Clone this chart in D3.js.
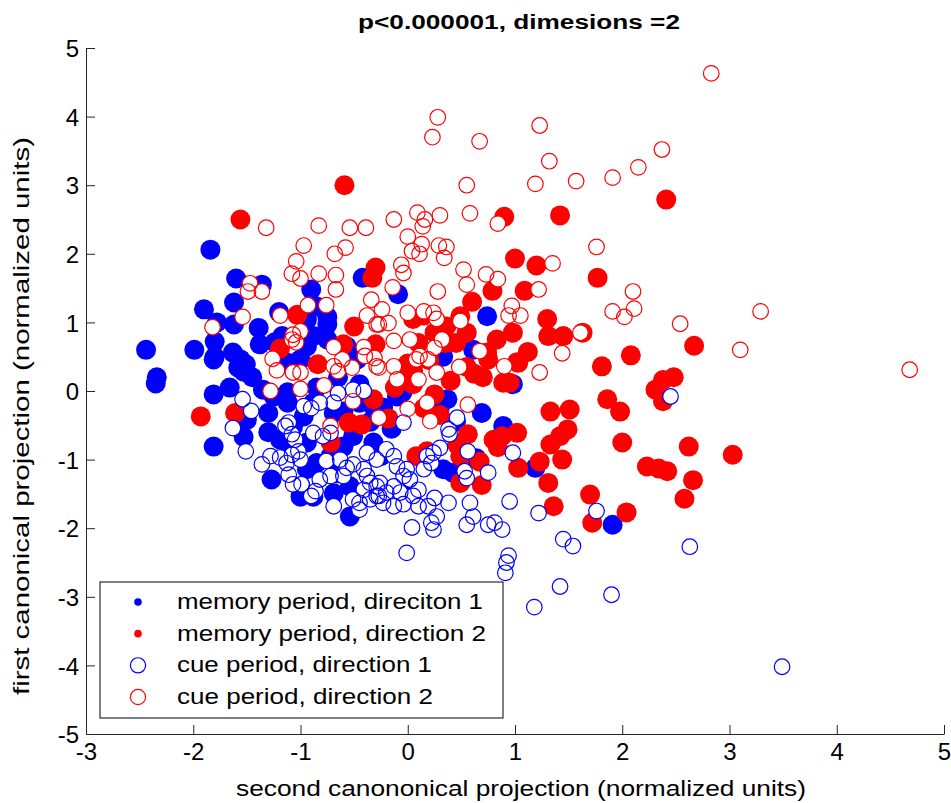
<!DOCTYPE html>
<html>
<head>
<meta charset="utf-8">
<script src="https://cdn.jsdelivr.net/npm/d3@7"></script>
<style>
  html, body { margin: 0; padding: 0; background: #fff; }
  svg { display: block; }
  text { font-family: "Liberation Sans", Arial, Helvetica, sans-serif; fill: #000; }
</style>
</head>
<body>
<svg id="chart" width="951" height="803"></svg>
<script>
// Canonical projections: [second projection, first projection]
const memoryDir1 = [
  [-1.84,2.06],[-1.60,1.64],[-1.36,1.55],[-0.90,1.48],[-1.90,1.19],[-1.62,1.29],[-1.78,1.00],[-1.62,0.97],
  [-1.39,0.92],[-1.17,0.80],[-2.44,0.60],[-1.99,0.60],[-1.80,0.72],[-1.80,0.50],[-1.63,0.56],[-1.56,0.46],
  [-1.51,0.39],[-1.38,0.68],[-0.85,1.23],[-0.75,0.97],[-0.88,0.80],[-0.42,1.65],[-2.34,0.20],
  [-1.24,0.71],[-1.12,0.41],[-1.00,0.46],[-0.94,0.65],[-0.75,0.75],[-0.57,0.65],[-0.47,0.46],[-0.94,1.04],[-0.75,1.08],
  [0.74,1.09],[-0.09,1.41],[0.33,0.50],[0.61,0.60],
  [-2.35,0.11],[-1.81,-0.05],[-1.66,0.05],[-1.58,0.34],[-1.53,0.28],[-1.81,0.46],[-1.81,-0.81],[-1.53,-0.67],
  [-1.50,-0.42],[-1.30,-0.32],[-1.35,0.02],[-1.25,-0.08],[-1.12,-0.02],[-1.27,-1.29],[-1.00,-1.54],[-0.54,-1.83],
  [-0.97,-0.37],[-0.88,-0.17],[-0.94,-0.75],[-1.07,-0.52],[-1.19,-0.71],[-1.12,-0.17],[-0.69,-0.32],[-0.60,-0.81],
  [-0.51,-0.66],[-0.32,-0.75],[-0.72,-0.95],[-0.94,-1.14],[-1.00,-1.39],[-0.54,-1.39],[-0.69,-1.49],[-0.38,-1.54],[-0.88,-1.54],
  [0.98,0.10],[0.69,-0.32],[0.89,-0.51],[1.19,-1.12],[1.91,-1.95],[0.00,-1.51],[0.42,-1.19],[0.33,-1.14],
  [0.37,-0.12],[0.30,-0.23],[-0.05,-0.02],[-0.10,-0.08],[-0.45,-0.17],[-0.32,-0.23],[-0.23,-0.24],[0.64,-0.98],
  [-0.65,0.20],[-0.45,0.10],[-0.85,0.05],[-0.60,-0.30],[-0.35,-0.45],[-0.15,-0.55],[-0.25,-0.95],[-0.65,-1.20],
  [-0.85,-1.05],[0.25,-0.30],[0.45,-0.45],[-1.20,1.15],[-1.45,0.20],[-1.30,-0.60],[-1.10,-0.90]
];

const memoryDir2 = [
  [-0.59,3.00],[-1.56,2.50],[-0.30,1.80],[-0.33,1.65],[-0.50,0.94],[-1.03,1.11],[-1.19,0.62],[-0.84,0.39],
  [-0.60,0.68],[-0.30,0.68],
  [0.90,2.54],[1.42,2.56],[1.00,1.93],[1.20,1.83],[1.77,1.65],[0.79,1.46],[1.09,1.46],[0.60,1.30],[1.30,1.05],
  [1.31,0.80],[1.45,0.80],[1.63,0.85],[0.98,0.85],[0.83,0.75],[1.12,0.57],[1.03,0.41],[0.74,0.56],[2.08,0.52],
  [1.81,0.36],[0.49,1.09],[0.36,0.94],
  [0.05,1.05],[0.15,1.10],[0.25,0.85],[0.35,0.70],[0.10,0.70],[0.45,0.70],[0.55,0.85],[0.20,0.45],[0.05,0.30],
  [0.00,0.40],[-0.08,0.30],
  [-1.93,-0.37],[-1.61,-0.32],[-0.55,-0.46],[-0.43,-0.49],[-0.72,-0.75],[-0.32,-0.12],
  [1.86,-0.12],[1.98,-0.30],[1.33,-0.30],[1.51,-0.27],[1.49,-0.56],[1.42,-0.66],[1.33,-0.78],[1.44,-1.00],
  [1.23,-1.03],[1.31,-1.34],[2.00,-0.75],[1.70,-1.51],[1.72,-1.92],[2.04,-1.77],[1.36,-1.68],[1.03,-1.12],
  [1.02,-0.61],[0.80,-0.71],[0.84,-0.82],[0.88,-0.66],[0.89,0.12],[0.95,0.12],[0.75,0.46],[1.02,0.42],
  [0.56,-0.63],[0.46,-0.78],[0.49,-0.95],[0.67,-1.03],[0.49,-1.34],[0.69,-1.37],
  [0.05,0.10],[0.25,-0.05],[0.40,0.15],[0.55,0.35],[0.62,0.25],[0.70,0.20],[0.15,-0.25],[0.30,-0.35],
  [-0.12,0.05],[-0.18,-0.40],[0.08,-0.95],[0.18,-0.88],
  [2.41,2.79],[2.67,0.66],[2.48,0.20],[2.38,0.16],[2.31,0.02],[2.38,-0.15],[2.62,-0.81],[3.03,-0.93],
  [2.23,-1.10],[2.34,-1.13],[2.42,-1.17],[2.66,-1.30],[2.58,-1.57]
];

const cueDir1 = [
  [-1.63,-0.54],[-1.54,-0.12],[-1.46,-0.29],[-1.51,-0.88],[-1.36,-1.07],[-1.28,-0.95],[-1.11,-0.46],[-1.14,-0.51],
  [-1.08,-0.63],[-1.05,-0.71],[-1.19,-0.97],[-1.13,-1.05],[-1.08,-0.93],[-1.02,-0.88],[-1.00,-1.00],[-1.11,-1.22],
  [-1.07,-1.36],[-0.99,-1.36],[-0.90,-1.53],[-0.86,-1.46],[-0.82,-1.29],[-0.72,-1.24],[-0.97,-0.22],[-0.90,-0.25],
  [-0.82,-0.17],[-0.69,-0.17],[-0.88,-0.61],[-0.79,-0.66],[-0.72,-0.61],[-0.76,-1.02],[-0.63,-1.00],[-0.69,-1.68],
  [-0.51,-1.58],[-0.45,-1.63],[-0.60,-1.24],[-0.57,-1.12],[-0.51,-1.07],[-0.41,-1.14],[-0.38,-1.24],[-0.35,-1.34],
  [-0.29,-1.39],[-0.27,-1.53],[-0.65,-0.03],[-0.51,0.02],[-0.41,0.00],
  [-0.04,-0.46],[0.98,-0.90],[0.75,-1.19],[0.55,-1.27],[0.53,-1.17],[0.95,-1.61],[1.22,-1.78],[0.58,-1.63],
  [0.38,-1.63],[0.25,-1.56],[0.19,-1.68],[0.27,-1.83],[0.22,-1.92],[0.24,-2.02],[0.55,-1.95],[0.61,-1.83],
  [0.75,-1.95],[0.81,-1.92],[0.88,-2.02],[1.45,-2.16],[1.54,-2.26],[0.94,-2.40],[-0.01,-2.36],[1.76,-1.75],
  [0.04,-1.99],[0.10,-1.68],[-0.04,-1.65],[-0.13,-1.68],[-0.23,-1.63],[-0.35,-1.58],[-0.45,-1.73],
  [0.38,-0.56],[0.39,-0.63],[0.30,-0.83],[0.24,-0.90],[0.56,-0.88],[0.46,-0.39],[0.22,-1.05],[0.18,-0.95],
  [-0.38,-0.90],[-0.29,-1.00],[-0.20,-0.85],[-0.13,-0.95],[-0.10,-1.10],[-0.01,-1.14],[-0.04,-1.24],[-0.13,-1.39],
  [-0.26,-1.34],[-0.41,-1.44],[-0.29,-1.53],[-0.20,-1.48],[-0.07,-1.48],[0.05,-1.53],[0.10,-1.44],[0.02,-1.29],
  [0.15,-1.14],
  [0.92,-2.50],[0.91,-2.65],[1.42,-2.85],[1.18,-3.15],[1.90,-2.97],[2.45,-0.08],[2.63,-2.27],[3.49,-4.02]
];

const cueDir2 = [
  [2.83,4.63],[0.28,3.99],[0.23,3.70],[0.67,3.64],[1.23,3.87],[1.32,3.35],[2.37,3.52],[2.15,3.26],
  [0.55,3.00],[1.19,3.02],[1.57,3.06],[1.91,3.11],
  [-1.32,2.38],[-0.83,2.41],[-0.54,2.38],[-0.39,2.38],[-0.97,2.12],[-0.68,2.00],[-0.58,2.09],[-1.04,1.89],
  [-1.08,1.71],[-1.00,1.64],[-0.83,1.71],[-0.67,1.69],[-0.67,1.48],[-1.47,1.57],[-1.49,1.45],[-1.36,1.45],
  [-0.93,1.25],[-0.76,1.25],[-0.34,1.33],[-1.19,1.10],[-1.54,1.08],[-1.82,0.93],[-0.38,1.10],[-0.29,0.97],
  [-1.07,0.82],[-1.00,0.87],[-1.04,0.71],[-1.08,0.75],[-0.69,0.64],[-0.41,0.64],[-1.26,0.47],[-0.61,0.46],
  [-0.40,0.51],[-1.22,0.30],[-1.07,0.27],[-1.00,0.27],[-0.69,0.36],[-0.65,0.29],[-0.52,0.34],
  [-0.13,2.50],[0.09,2.60],[0.16,2.50],[0.14,2.40],[0.30,2.56],[0.58,2.59],[0.84,2.44],[0.00,2.25],
  [0.04,2.04],[0.13,2.14],[0.11,2.00],[0.29,2.12],[0.36,2.10],[0.34,1.94],[-0.06,1.84],[-0.04,1.72],
  [0.52,1.77],[0.73,1.70],[0.84,1.63],[0.55,1.55],[0.28,1.45],[-0.14,1.51],[1.22,1.48],[1.35,1.86],
  [1.76,2.10],[0.97,1.24],[0.94,1.10],[1.05,1.10],[1.91,1.16],[2.02,1.08],[2.11,1.20],[2.10,1.45],
  [1.61,0.85],[1.44,0.55],[1.23,0.27],[0.90,0.36],[0.67,0.58],[0.48,0.35],[0.25,0.63],[0.11,0.51],
  [0.02,0.75],[0.32,0.75],[0.49,1.02],[0.24,1.14],[0.27,1.05],[0.15,1.16],[0.00,1.14],[-0.24,1.19],
  [-0.27,0.97],[-0.18,0.99],[-0.13,0.73],[-0.31,0.48],[-0.27,0.34],[-0.13,0.36],[0.27,0.27],
  [2.54,0.98],[3.29,1.16],[3.10,0.60],[4.68,0.31],
  [-1.28,0.00],[-1.00,0.03],[-0.78,0.08],[-0.72,-0.51],[-0.51,-0.15],
  [-0.29,0.36],[0.08,0.46],[0.19,0.46],[-0.10,0.17],[0.10,0.17],[0.18,-0.17],[0.56,-0.20],[-0.27,-0.39],
  [0.21,-0.44],[0.00,-0.26]
];

const xTicks = [-3, -2, -1, 0, 1, 2, 3, 4, 5];
const yTicks = [-5, -4, -3, -2, -1, 0, 1, 2, 3, 4, 5];

const titleText = "p<0.000001, dimesions =2";
const xLabelText = "second canononical projection (normalized units)";
const yLabelText = "first canonical projection (normalized units)";
const legendLabels = [
  "memory period, direciton 1",
  "memory period, direction 2",
  "cue period, direction 1",
  "cue period, direction 2"
];

const BLUE = "#0000ff", RED = "#ff0000", AXIS = "#262626";

const svg = d3.select("#chart");

const x = d3.scaleLinear().domain([-3, 5]).range([86, 944]);
const y = d3.scaleLinear().domain([-5, 5]).range([734, 48]);

// ---- axes (ticks point inward, no box) ----
const gx = svg.append("g")
  .attr("transform", `translate(0,${y(-5)})`)
  .call(d3.axisBottom(x).tickValues(xTicks).tickSizeInner(-9).tickSizeOuter(0).tickPadding(26)
        .tickFormat(d3.format("d")));
const gy = svg.append("g")
  .attr("transform", `translate(${x(-3)},0)`)
  .call(d3.axisLeft(y).tickValues(yTicks).tickSizeInner(-9).tickSizeOuter(0).tickPadding(7)
        .tickFormat(d3.format("d")));

[gx, gy].forEach(g => {
  g.select(".domain").attr("stroke", AXIS).attr("stroke-width", 1);
  g.selectAll(".tick line").attr("stroke", AXIS).attr("stroke-width", 1);
  g.selectAll(".tick text")
    .attr("fill", "#000")
    .style("font-family", '"Liberation Sans", Arial, sans-serif')
    .style("font-size", "24px")
    .text(d => d < 0 ? "-" + Math.abs(d) : String(d));
});
gx.selectAll(".tick text").attr("dy", 0).attr("y", 26);
gy.selectAll(".tick text").attr("dy", "0.36em");

// ---- markers ----
const plot = svg.append("g");

plot.selectAll("circle.m1").data(memoryDir1).join("circle")
  .attr("class", "m1")
  .attr("cx", d => x(d[0])).attr("cy", d => y(d[1])).attr("r", 10)
  .attr("fill", BLUE);

plot.selectAll("circle.m2").data(memoryDir2).join("circle")
  .attr("class", "m2")
  .attr("cx", d => x(d[0])).attr("cy", d => y(d[1])).attr("r", 10)
  .attr("fill", RED);

// open markers: white faces first, outlines on top so overlapping rings stay visible
const cueAll = cueDir1.map(d => ({ p: d, c: BLUE })).concat(cueDir2.map(d => ({ p: d, c: RED })));
plot.selectAll("circle.face").data(cueAll).join("circle")
  .attr("class", "face")
  .attr("cx", d => x(d.p[0])).attr("cy", d => y(d.p[1])).attr("r", 7.6)
  .attr("fill", "#fff");

plot.selectAll("circle.ring").data(cueAll).join("circle")
  .attr("class", "ring")
  .attr("cx", d => x(d.p[0])).attr("cy", d => y(d.p[1])).attr("r", 7.8)
  .attr("fill", "none").attr("stroke", d => d.c).attr("stroke-width", 1.2);

// ---- title and axis labels ----
svg.append("text")
  .attr("x", 519).attr("y", 29)
  .attr("text-anchor", "middle")
  .style("font-size", "20px").style("font-weight", "bold")
  .attr("textLength", 322).attr("lengthAdjust", "spacingAndGlyphs")
  .text(titleText);

svg.append("text")
  .attr("x", 521).attr("y", 796)
  .attr("text-anchor", "middle")
  .style("font-size", "22px")
  .attr("textLength", 570).attr("lengthAdjust", "spacingAndGlyphs")
  .text(xLabelText);

svg.append("text")
  .attr("transform", "translate(29,416) rotate(-90)")
  .attr("text-anchor", "middle")
  .style("font-size", "22px")
  .attr("textLength", 558).attr("lengthAdjust", "spacingAndGlyphs")
  .text(yLabelText);

// ---- legend ----
const legend = svg.append("g");
legend.append("rect")
  .attr("x", 100).attr("y", 582).attr("width", 403).attr("height", 136)
  .attr("fill", "#fff").attr("stroke", "#000").attr("stroke-width", 1);

const legendRows = [
  { label: legendLabels[0], color: BLUE, filled: true,  len: 306 },
  { label: legendLabels[1], color: RED,  filled: true,  len: 309 },
  { label: legendLabels[2], color: BLUE, filled: false, len: 255 },
  { label: legendLabels[3], color: RED,  filled: false, len: 256 }
];
const rowY = d3.scalePoint().domain(d3.range(legendRows.length)).range([602, 697]);

legendRows.forEach((row, i) => {
  const cy = rowY(i);
  if (row.filled) {
    legend.append("circle").attr("cx", 138).attr("cy", cy).attr("r", 3.8).attr("fill", row.color);
  } else {
    legend.append("circle").attr("cx", 138).attr("cy", cy).attr("r", 7.6)
      .attr("fill", "none").attr("stroke", row.color).attr("stroke-width", 1.2);
  }
  legend.append("text")
    .attr("x", 177).attr("y", cy + 7)
    .style("font-size", "22px")
    .attr("textLength", row.len).attr("lengthAdjust", "spacingAndGlyphs")
    .text(row.label);
});
</script>
</body>
</html>
